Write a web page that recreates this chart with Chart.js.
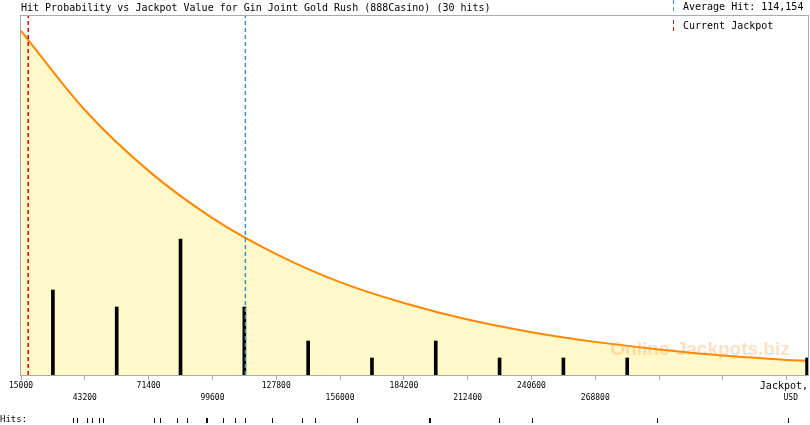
<!DOCTYPE html>
<html>
<head>
<meta charset="utf-8">
<title>Gin Joint Gold Rush</title>
<script src="https://cdn.jsdelivr.net/npm/chart.js@4.4.1/dist/chart.umd.min.js"></script>
<style>
body{margin:0;background:#fff;}
#wrap{width:810px;height:425px;}
</style>
</head>
<body>
<div id="wrap"><canvas id="myChart" width="810" height="425"></canvas></div>
<script>
var titleText = "Hit Probability vs Jackpot Value for Gin Joint Gold Rush (888Casino) (30 hits)";
var xMin = 15000, xMax = 362800;
var tickValues = [15000, 43200, 71400, 99600, 127800, 156000, 184200, 212400, 240600, 268800, 297000, 325200, 353400];
var tickLabels = ["15000", "43200", "71400", "99600", "127800", "156000", "184200", "212400", "240600", "268800", "", "", ""];

// probability curve (relative to plot height)
var curveX = [15000, 43200, 71400, 99600, 127800, 156000, 184200, 212400, 240600, 268800, 297000, 325200, 353400, 362800];
var curveP = [0.956, 0.736, 0.567, 0.436, 0.336, 0.258, 0.200, 0.154, 0.119, 0.092, 0.071, 0.054, 0.042, 0.039];

// histogram of hits
var binCenters = [29100, 57300, 85500, 113700, 141900, 170100, 198300, 226500, 254700, 282900, 362400];
var binHits = [5, 4, 8, 4, 2, 1, 2, 1, 1, 1, 1];

// individual hits (bottom row)
var hitValues = [37900, 37900, 37900, 39900, 39900, 44300, 46250, 49340, 51380, 73920, 73920, 76440, 84090, 84090, 88500,
  96900, 97350, 104400, 109450, 113900, 125800, 139100, 145000, 163400, 195100, 195550, 226400, 241000, 296200, 354100];

var averageHit = 114154;
var currentJackpot = 18200;

var mono = "'DejaVu Sans Mono', monospace";

var extras = {
  id: 'extras',
  afterDatasetsDraw: function (chart) {
    let ctx = chart.ctx;
    let ca = chart.chartArea;
    let xs = chart.scales.x;
    ctx.save();
    // watermark
    ctx.font = "bold 19px 'Liberation Sans', Arial, sans-serif";
    ctx.fillStyle = 'rgba(255,150,60,0.3)';
    ctx.textAlign = 'center';
    ctx.textBaseline = 'alphabetic';
    ctx.fillText('Online-Jackpots.biz', 700, 355);

    // frame
    ctx.strokeStyle = '#aaaaaa';
    ctx.lineWidth = 1;
    ctx.strokeRect(ca.left - 0.5, ca.top + 0.5, ca.right - ca.left + 1, ca.bottom - ca.top);

    // legend top right
    ctx.setLineDash([4, 3]);
    ctx.strokeStyle = '#3a8fc8';
    ctx.beginPath(); ctx.moveTo(673.5, 0); ctx.lineTo(673.5, 12); ctx.stroke();
    ctx.strokeStyle = '#dd0000';
    ctx.beginPath(); ctx.moveTo(673.5, 20); ctx.lineTo(673.5, 32); ctx.stroke();
    ctx.setLineDash([]);
    ctx.fillStyle = '#000';
    ctx.font = '10px ' + mono;
    ctx.textAlign = 'left';
    ctx.textBaseline = 'middle';
    ctx.fillText('Average Hit: ' + averageHit.toLocaleString('en-US'), 683, 7);
    ctx.fillText('Current Jackpot', 683, 26);

    // axis name
    ctx.textAlign = 'right';
    ctx.fillText('Jackpot,', ca.right, 386);
    ctx.font = '8px ' + mono;
    ctx.fillText('USD', ca.right - 10, 398);

    // hits row
    ctx.textAlign = 'left';
    ctx.font = '9px ' + mono;
    ctx.fillText('Hits:', 0, 420);
    hitValues.forEach(function (v) {
      let px = Math.round(xs.getPixelForValue(v));
      ctx.fillRect(px, 418, 1, 5);
    });
    ctx.restore();
  }
};

var graficar = document.getElementById('myChart').getContext('2d');
var myChart = new Chart(graficar, {
  data: {
    datasets: [
      {
        type: 'line',
        label: 'Hit probability',
        data: curveX.map(function (x, i) { return {x: x, y: curveP[i]}; }),
        yAxisID: 'p',
        borderColor: '#ff8800',
        borderWidth: 2,
        backgroundColor: '#fff8c8',
        fill: 'origin',
        pointRadius: 0,
        cubicInterpolationMode: 'monotone',
        order: 3
      },
      {
        type: 'bar',
        label: 'Hits',
        data: binCenters.map(function (x, i) { return {x: x, y: binHits[i]}; }),
        yAxisID: 'y',
        backgroundColor: '#000',
        barThickness: 3,
        order: 2
      },
      {
        type: 'line',
        label: 'Average Hit',
        data: [{x: averageHit, y: 0}, {x: averageHit, y: 1}],
        yAxisID: 'p',
        borderColor: '#3a8fc8',
        borderWidth: 1.5,
        borderDash: [4, 3],
        pointRadius: 0,
        fill: false,
        order: 1
      },
      {
        type: 'line',
        label: 'Current Jackpot',
        data: [{x: currentJackpot, y: 0}, {x: currentJackpot, y: 1}],
        yAxisID: 'p',
        borderColor: '#dd0000',
        borderWidth: 1.5,
        borderDash: [4, 3],
        pointRadius: 0,
        fill: false,
        order: 1
      }
    ]
  },
  options: {
    responsive: false,
    animation: false,
    layout: {padding: {left: 21, right: 2, top: 0, bottom: 0}},
    plugins: {
      legend: {display: false},
      tooltip: {enabled: false},
      title: {
        display: true,
        text: titleText,
        align: 'start',
        color: '#000',
        font: {family: mono, size: 10, weight: 'normal', lineHeight: 1.2},
        padding: {top: 2, bottom: 1}
      }
    },
    scales: {
      x: {
        type: 'linear',
        min: xMin,
        max: xMax,
        offset: false,
        afterBuildTicks: function (scale) {
          scale.ticks = tickValues.map(function (v) { return {value: v}; });
        },
        afterFit: function (scale) { scale.height = 50; },
        grid: {offset: false, drawOnChartArea: false, drawTicks: true, tickLength: 5, color: '#aaaaaa'},
        border: {display: false},
        ticks: {
          autoSkip: false,
          maxRotation: 0,
          padding: 0,
          color: '#000',
          font: {family: mono, size: 8, lineHeight: 1.5},
          callback: function (value, index) {
            let lbl = tickLabels[index];
            if (!lbl) return '';
            return index % 2 == 0 ? lbl : ['', lbl];
          }
        }
      },
      y: {display: false, min: 0, max: 360 / 17},
      p: {display: false, min: 0, max: 1}
    }
  },
  plugins: [extras]
});
</script>
</body>
</html>
